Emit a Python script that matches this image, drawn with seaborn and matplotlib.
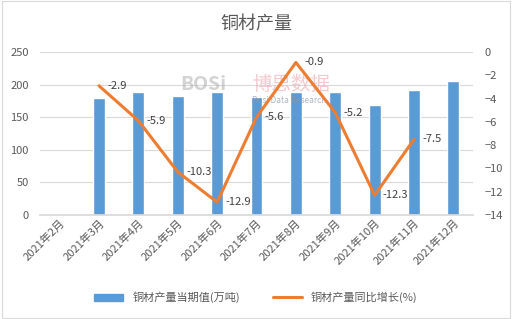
import matplotlib
matplotlib.use("Agg")
import matplotlib.pyplot as plt
import seaborn as sns
import pandas as pd
import numpy as np
from matplotlib.patches import Patch
from matplotlib.lines import Line2D

categories = ["2021年2月", "2021年3月", "2021年4月", "2021年5月", "2021年6月", "2021年7月",
              "2021年8月", "2021年9月", "2021年10月", "2021年11月", "2021年12月"]
output_vals = [np.nan, 179, 188, 182.5, 188, 180.5, 188, 188, 168.7, 191.7, 205.5]
growth_vals = [np.nan, -2.9, -5.9, -10.3, -12.9, -5.6, -0.9, -5.2, -12.3, -7.5, np.nan]
bar_label = "铜材产量当期值(万吨)"
line_label = "铜材产量同比增长(%)"

sns.set_theme(style="white")
plt.rcParams['font.family'] = ['Noto Sans CJK SC', 'DejaVu Sans']

df = pd.DataFrame({"month": categories, "output": output_vals, "growth": growth_vals})

fig = plt.figure(figsize=(5.12, 3.19), dpi=100)
ax = fig.add_axes([0.078, 0.326, 0.846, 0.511])
x = np.arange(len(categories))

sns.barplot(data=df, x="month", y="output", color="#5B9BD5", width=0.3, ax=ax,
            saturation=1, label=bar_label)
ax.set_ylim(0, 250)
ax.set_yticks(range(0, 251, 50))
ax.set_xlim(-0.5, len(categories) - 0.5)
ax.yaxis.grid(True, color="#D9D9D9", linewidth=0.8)
ax.set_axisbelow(True)
for s in ["top", "right", "left"]:
    ax.spines[s].set_visible(False)
ax.spines["bottom"].set_color("#D9D9D9")
ax.set_xlabel("")
ax.set_ylabel("")
ax.tick_params(axis="y", labelsize=8, colors="#595959", length=0, pad=8)
ax.tick_params(axis="x", labelsize=8, colors="#595959", length=0, pad=2)
plt.setp(ax.get_xticklabels(), rotation=45, ha="right", rotation_mode="anchor")
if ax.get_legend():
    ax.get_legend().remove()

# watermark (semi-transparent, over the bars, beneath the line)
ax.text(0.325, 0.80, "BOSi", transform=ax.transAxes, fontsize=14, fontweight="bold",
        color="#A8A8A8", alpha=0.5, va="center", zorder=3)
ax.text(0.49, 0.80, "博思数据", transform=ax.transAxes, fontsize=14, color="#E8A0A8",
        alpha=0.55, va="center", zorder=3)
ax.text(0.49, 0.705, "Bosi Data Research", transform=ax.transAxes, fontsize=6,
        color="#8A98A8", alpha=0.7, va="center", zorder=3)

ax2 = ax.twinx()
sns.lineplot(x=x, y=df["growth"], color="#ED7D31", linewidth=2.2, ax=ax2, label=line_label)
ax2.set_ylim(-14, 0)
ax2.set_yticks(range(-14, 1, 2))
for s in ["top", "right", "left", "bottom"]:
    ax2.spines[s].set_visible(False)
ax2.set_ylabel("")
ax2.tick_params(axis="y", labelsize=8, colors="#595959", length=0, pad=8)
for xi, v in zip(x, growth_vals):
    if not np.isnan(v):
        ax2.annotate(f"{v}", (xi, v), xytext=(6, 0), textcoords="offset points",
                     ha="left", va="center", fontsize=8, color="#404040")
if ax2.get_legend():
    ax2.get_legend().remove()

fig.text(0.5, 0.925, "铜材产量", ha="center", va="center", fontsize=13, color="#595959")

handles = [Patch(color="#5B9BD5"), Line2D([0], [0], color="#ED7D31", linewidth=2.2)]
fig.legend(handles, [bar_label, line_label], loc="center", bbox_to_anchor=(0.5, 0.068),
           ncol=2, frameon=False, fontsize=8, labelcolor="#595959",
           handlelength=2.6, handleheight=0.6, columnspacing=3)

border = plt.Rectangle((0.003, 0.003), 0.994, 0.994, transform=fig.transFigure,
                       fill=False, edgecolor="#D9D9D9", linewidth=0.8)
fig.patches.append(border)

fig.savefig("out.png", dpi=100)
